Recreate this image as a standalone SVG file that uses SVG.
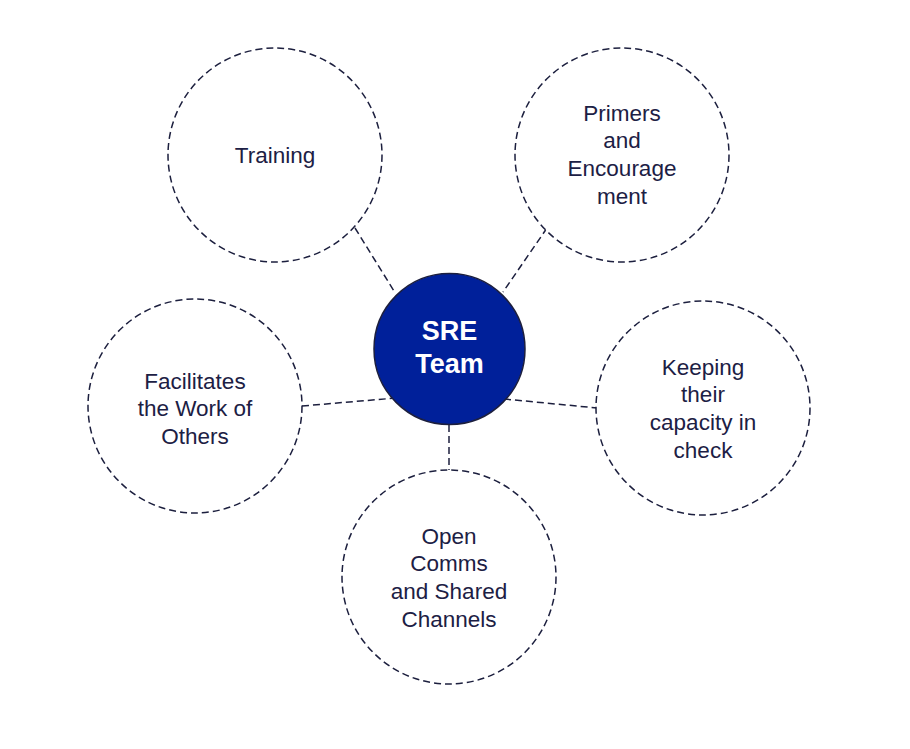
<svg xmlns="http://www.w3.org/2000/svg" width="910" height="749" viewBox="0 0 910 749">
<style>
.c{fill:#fff;stroke:#1c1f3e;stroke-width:1.5;stroke-dasharray:7 4}
.l{stroke:#1c1f3e;stroke-width:1.5;stroke-dasharray:7 4;fill:none}
.t{font-family:"Liberation Sans",Arial,sans-serif;font-size:22.5px;fill:#1c2044;text-anchor:middle}
.h{font-family:"Liberation Sans",Arial,sans-serif;font-size:27px;font-weight:bold;fill:#fff;text-anchor:middle}
</style>
<rect width="910" height="749" fill="#fff"/>
<g id="connectors">
<line class="l" x1="355" y1="228" x2="394" y2="291"/>
<line class="l" x1="547" y1="228" x2="503" y2="292"/>
<line class="l" x1="302" y1="406" x2="396" y2="398"/>
<line class="l" x1="504" y1="399" x2="597" y2="408"/>
<line class="l" x1="449" y1="425" x2="449" y2="472"/>
</g>
<g id="training"><circle class="c" cx="275" cy="155" r="107"/><text class="t" x="275" y="163">Training</text></g>
<g id="primers"><circle class="c" cx="622" cy="155" r="107"/>
<text class="t" x="622" y="121">Primers</text><text class="t" x="622" y="148">and</text><text class="t" x="622" y="176">Encourage</text><text class="t" x="622" y="204">ment</text></g>
<g id="facilitates"><circle class="c" cx="195" cy="406" r="107"/>
<text class="t" x="195" y="389">Facilitates</text><text class="t" x="195" y="416">the Work of</text><text class="t" x="195" y="444">Others</text></g>
<g id="keeping"><circle class="c" cx="703" cy="408" r="107"/>
<text class="t" x="703" y="375">Keeping</text><text class="t" x="703" y="402">their</text><text class="t" x="703" y="430">capacity in</text><text class="t" x="703" y="458">check</text></g>
<g id="open"><circle class="c" cx="449" cy="577" r="107"/>
<text class="t" x="449" y="544">Open</text><text class="t" x="449" y="571">Comms</text><text class="t" x="449" y="599">and Shared</text><text class="t" x="449" y="627">Channels</text></g>
<g id="sre"><circle cx="449.5" cy="349" r="75.5" fill="#00209a" stroke="#1c1f3e" stroke-width="1.5"/>
<text class="h" x="449.5" y="340">SRE</text><text class="h" x="449.5" y="373">Team</text></g>
</svg>
